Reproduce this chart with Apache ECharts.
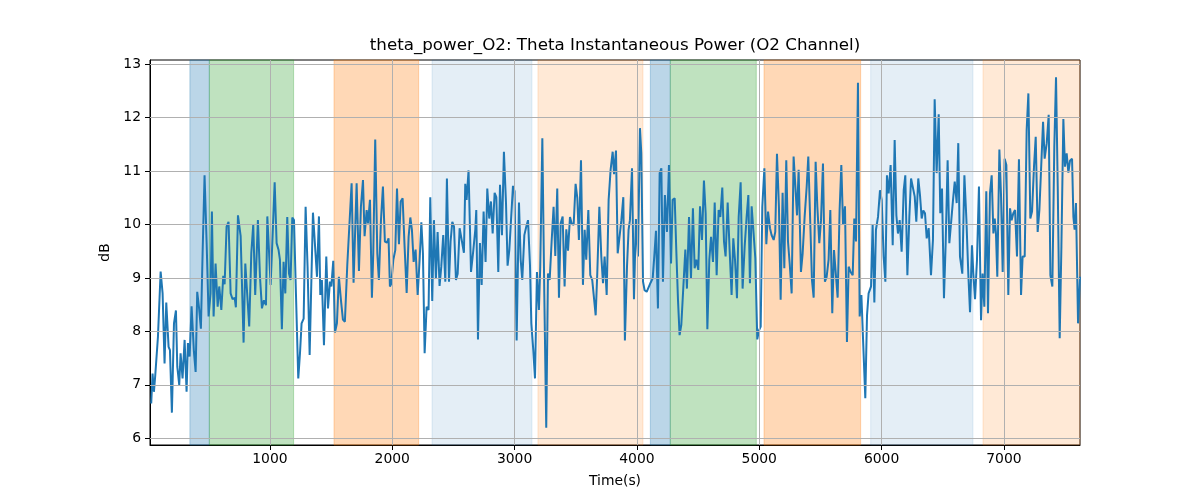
<!DOCTYPE html>
<html>
<head>
<meta charset="utf-8">
<script src="https://cdn.jsdelivr.net/npm/echarts@6/dist/echarts.min.js"></script>
<style>html,body{margin:0;padding:0;background:#fff;}#c{width:1200px;height:500px;}</style>
</head>
<body>
<div id="c"></div>
<script>
const titleText = 'theta_power_O2: Theta Instantaneous Power (O2 Channel)';
const xName = 'Time(s)';
const yName = 'dB';
const xTicks = [1000, 2000, 3000, 4000, 5000, 6000, 7000];
const yTicks = [6, 7, 8, 9, 10, 11, 12, 13];
const xMin = 20, xMax = 7622, yMin = 5.875, yMax = 13.075;

const times = [30,41,52,63,85,107,123,139,153,172,183,199,216,232,243,259,270,286,303,319,330,344,360,379,393,406,420,436,450,466,483,499,515,526,540,556,573,586,603,619,630,646,662,679,695,712,722,739,761,785,799,815,831,848,864,880,902,919,935,951,968,979,
1006,1022,1039,1055,1071,1082,1098,1112,1126,1142,1156,1169,1183,1197,1213,1232,1246,1259,1276,1292,1308,1325,1338,1352,1368,1385,1401,1412,1425,1442,1461,1475,1491,1502,1518,1532,1548,1564,1581,1597,1613,1633,1649,1668,1684,1709,1728,1744,1761,1774,1791,1802,1818,1834,1845,1861,1878,1891,1908,1924,1940,1957,1970,1981,
1992,2009,2025,2039,2055,2069,2085,2101,2118,2134,2148,2161,2175,2191,2208,2224,2238,2251,2265,2281,2297,2311,2327,2341,2357,2371,2387,2401,2417,2434,2447,2464,2477,2491,2505,2521,2535,2551,2570,2586,2597,2608,2624,2644,2663,2679,2687,2701,2717,2731,2747,2763,2777,2793,2807,2821,2837,2851,2867,2881,2897,2913,2930,2943,2957,
2973,2987,3000,3017,3036,3050,3063,3080,3096,3110,3126,3137,3153,3167,3183,3199,3210,3227,3243,3259,3273,3287,3303,3319,3333,3349,3363,3377,3393,3409,3423,3437,3453,3466,3483,3499,3513,3526,3543,3559,3573,3586,3603,3619,3635,3649,3663,3676,3693,3709,3723,3736,3753,3769,3785,3802,3813,3829,3843,3859,3873,3889,3902,3919,3932,
3943,3960,3976,3992,4009,4025,4036,4050,4063,4080,4096,4112,4129,4142,4156,4172,4186,4200,4213,4229,4246,4262,4279,4292,4309,4322,4336,4349,4363,4379,4396,4409,4426,4442,4458,4472,4486,4502,4516,4532,4548,4562,4576,4592,4606,4622,4636,4652,4668,4682,4698,4712,4725,4742,4758,4774,4788,4802,4818,4832,4848,4864,4881,4897,4911,4924,
4938,4954,4968,4984,4998,5012,5025,5042,5058,5072,5088,5101,5118,5131,5145,5161,5175,5191,5205,5221,5235,5249,5265,5281,5295,5309,5322,5341,5355,5371,5388,5401,5415,5431,5445,5461,5475,5491,5505,5521,5537,5551,5567,5581,5597,5611,5627,5641,5657,5671,5685,5701,5717,5731,5747,5764,5777,5791,5807,5821,5835,5851,5867,5881,5894,
5914,5927,5941,5954,5971,5987,6001,6017,6031,6044,6058,6074,6091,6107,6121,6134,6148,6164,6181,6194,6211,6227,6241,6254,6271,6284,6300,6314,6328,6341,6355,6369,6385,6404,6420,6434,6450,6467,6480,6494,6510,6524,6540,6554,6568,6584,6598,6614,6627,6641,6660,6677,6693,6709,6723,6739,6750,6764,6780,6796,6813,6826,6840,6856,6870,
6886,6900,6914,6925,6935,6946,6963,6976,6990,7006,7020,7036,7050,7063,7077,7091,7107,7123,7140,7153,7170,7186,7200,7216,7230,7246,7260,7276,7290,7306,7320,7333,7350,7366,7380,7396,7412,7426,7440,7456,7470,7486,7499,7513,7527,7540,7557,7568,7578,7589,7606,7622];

const power = [6.65,7.21,6.87,7.18,7.9,9.12,8.71,7.4,8.54,7.71,7.65,6.48,8.15,8.39,7.34,7.0,7.59,7.12,7.84,6.87,7.78,7.53,8.47,7.62,7.24,8.74,8.46,8.05,9.46,10.92,9.65,8.28,8.71,10.24,8.28,9.27,8.46,8.84,8.4,9.04,8.88,9.96,10.05,8.71,8.6,8.63,8.45,10.17,9.78,7.79,9.27,8.68,8.09,9.46,10.0,8.68,10.08,9.02,8.43,8.58,8.49,10.15,
8.87,9.78,10.79,9.65,9.52,9.34,8.04,9.3,8.71,10.14,9.08,8.96,10.13,10.08,8.71,7.12,7.59,8.15,8.24,10.33,9.21,7.56,7.59,10.22,10.24,9.02,10.15,8.68,8.96,7.74,9.4,8.43,8.93,8.84,9.32,7.98,8.15,9.02,8.58,8.22,8.18,9.26,9.29,10.77,8.91,10.77,9.13,10.33,10.83,9.78,10.27,10.02,10.46,8.63,9.46,11.59,9.46,8.96,10.08,10.71,9.68,9.66,9.74,8.84,
8.89,9.34,9.52,10.67,9.63,10.43,10.49,9.59,8.72,9.77,10.13,9.9,9.3,9.53,8.68,9.34,10.04,9.46,7.59,8.46,8.4,10.51,8.57,10.08,8.98,9.86,8.85,9.21,9.8,8.93,10.86,8.93,9.68,10.05,9.96,8.96,9.08,9.93,9.68,9.47,10.76,10.46,11.01,9.11,9.52,9.9,10.27,7.85,9.65,8.87,10.24,9.3,10.67,10.11,10.43,9.83,10.59,10.51,9.11,10.74,9.8,11.36,10.4,9.23,9.52,
9.52,10.72,10.62,7.83,10.41,9.34,8.96,9.8,9.96,10.08,9.24,8.15,7.65,7.12,9.11,8.4,9.21,11.61,8.71,6.2,9.08,8.96,9.68,10.33,9.41,10.67,8.63,10.02,10.15,8.84,9.91,9.51,10.14,10.02,9.99,10.76,10.49,9.71,11.2,8.87,9.9,9.34,10.27,9.05,8.96,8.96,8.3,9.08,10.33,9.4,8.9,9.4,8.68,10.46,11.02,11.36,10.94,11.38,9.46,9.47,10.08,10.51,7.83,9.21,9.9,
10.08,11.05,8.6,10.1,9.4,11.8,11.33,8.93,8.77,8.74,8.77,8.91,8.99,9.4,9.88,8.43,10.96,11.05,8.93,10.55,9.86,11.11,9.27,10.46,10.49,9.52,8.58,7.93,8.12,8.15,9.53,8.8,10.14,8.98,10.3,9.18,9.34,9.15,10.34,9.71,10.82,10.21,8.04,9.34,9.77,9.3,10.41,9.05,10.27,10.14,10.69,9.68,9.4,10.41,9.52,8.68,9.74,9.34,8.62,10.14,10.79,8.8,9.59,10.14,10.55,8.9,
10.34,9.83,9.37,7.85,8.02,8.09,10.33,11.05,9.63,10.24,9.93,9.8,9.71,9.86,11.32,10.33,8.59,10.59,9.18,11.2,9.68,9.27,8.71,11.27,11.27,10.17,11.02,9.11,9.46,10.14,10.71,11.27,11.28,8.96,8.63,11.17,10.33,9.65,10.08,11.14,8.93,9.02,9.34,10.27,8.34,9.52,9.55,8.63,10.27,11.11,9.99,10.34,7.8,9.21,9.11,9.05,10.11,9.68,12.65,8.28,8.68,7.71,6.75,8.3,8.71,
8.84,10.0,8.54,9.9,10.14,10.64,10.46,9.4,8.93,10.92,10.58,11.11,9.61,11.58,10.17,9.83,10.08,9.49,10.64,10.92,9.05,10.14,10.86,10.89,10.52,10.05,10.86,10.55,10.11,10.26,10.21,9.74,9.93,9.05,9.71,12.34,10.96,12.06,10.21,10.67,8.62,9.65,11.2,9.65,9.68,10.46,10.8,10.4,11.52,9.4,9.08,10.92,10.11,9.08,8.36,9.61,9.08,8.6,9.34,10.71,8.21,9.08,8.46,10.62,8.34,
10.58,10.92,9.83,10.11,9.83,9.02,11.4,10.58,9.11,11.23,11.11,8.68,10.3,10.08,10.21,10.27,9.4,11.22,8.68,9.4,9.4,11.77,12.45,10.11,10.24,11.08,11.64,9.86,10.27,10.27,11.92,11.23,11.52,12.05,9.05,8.84,11.45,12.75,10.71,7.87,9.59,11.97,11.08,11.33,10.97,11.19,11.23,10.14,9.9,10.4,8.15,9.02];

// shaded epochs
const spanStart = [346, 505, 1524, 2325, 3191, 4110, 4273, 5039, 5911, 6829];
const spanEnd   = [505, 1194, 2216, 3142, 4050, 4273, 4976, 5829, 6747, 7622];
const spanKind  = ['blue','green','orange','lightblue','lightorange','blue','green','orange','lightblue','lightorange'];

const kindColor = {
  blue: 'rgba(31,119,180,0.3)',
  green: 'rgba(44,160,44,0.3)',
  orange: 'rgba(255,127,14,0.3)',
  lightblue: 'rgba(31,119,180,0.12)',
  lightorange: 'rgba(255,127,14,0.17)'
};

const lineData = times.map((t, i) => [t, power[i]]);
const areaData = spanStart.map((s, i) => [
  { xAxis: s, itemStyle: { color: kindColor[spanKind[i]], borderColor: kindColor[spanKind[i]], borderWidth: 1 } },
  { xAxis: spanEnd[i] }
]);
const gridLines = xTicks.map(v => ({ xAxis: v })).concat(yTicks.map(v => ({ yAxis: v })));

const font = 'DejaVu Sans';
const chart = echarts.init(document.getElementById('c'), null, { renderer: 'canvas' });
chart.setOption({
  animation: false,
  backgroundColor: '#fff',
  title: {
    text: titleText,
    left: 615, top: 37, padding: 0,
    textAlign: 'center',
    textStyle: { fontFamily: font, fontSize: 16.7, fontWeight: 'normal', color: '#000' }
  },
  grid: { left: 150, right: 120, top: 60, bottom: 55, show: true, borderColor: '#000', borderWidth: 1, backgroundColor: 'transparent' },
  xAxis: {
    type: 'value', min: xMin, max: xMax,
    name: xName, nameLocation: 'middle', nameGap: 29,
    nameTextStyle: { fontFamily: font, fontSize: 13.9, color: '#000' },
    axisLine: { show: true, lineStyle: { color: '#000', width: 1 } },
    axisTick: { show: true, customValues: xTicks, length: 5, lineStyle: { color: '#000' } },
    axisLabel: { customValues: xTicks, formatter: v => String(v), margin: 7, fontFamily: font, fontSize: 13.9, color: '#000' },
    splitLine: { show: false }
  },
  yAxis: {
    type: 'value', min: yMin, max: yMax,
    name: yName, nameLocation: 'middle', nameGap: 34, nameRotate: 90,
    nameTextStyle: { fontFamily: font, fontSize: 13.9, color: '#000' },
    axisLine: { show: true, lineStyle: { color: '#000', width: 1 } },
    axisTick: { show: true, customValues: yTicks, length: 5, lineStyle: { color: '#000' } },
    axisLabel: { customValues: yTicks, formatter: v => String(v), margin: 9, fontFamily: font, fontSize: 13.9, color: '#000' },
    splitLine: { show: false }
  },
  series: [
    {
      type: 'line', data: [], silent: true, z: 1,
      markArea: { silent: true, data: areaData }
    },
    {
      type: 'line', data: [], silent: true, z: 2,
      markLine: {
        silent: true, symbol: ['none', 'none'], label: { show: false },
        lineStyle: { color: '#b0b0b0', width: 1, type: 'solid' },
        data: gridLines
      }
    },
    {
      type: 'line', data: lineData, z: 3,
      showSymbol: false, symbol: 'none',
      lineStyle: { color: '#1f77b4', width: 2 },
      itemStyle: { color: '#1f77b4' }
    }
  ]
});
</script>
</body>
</html>
